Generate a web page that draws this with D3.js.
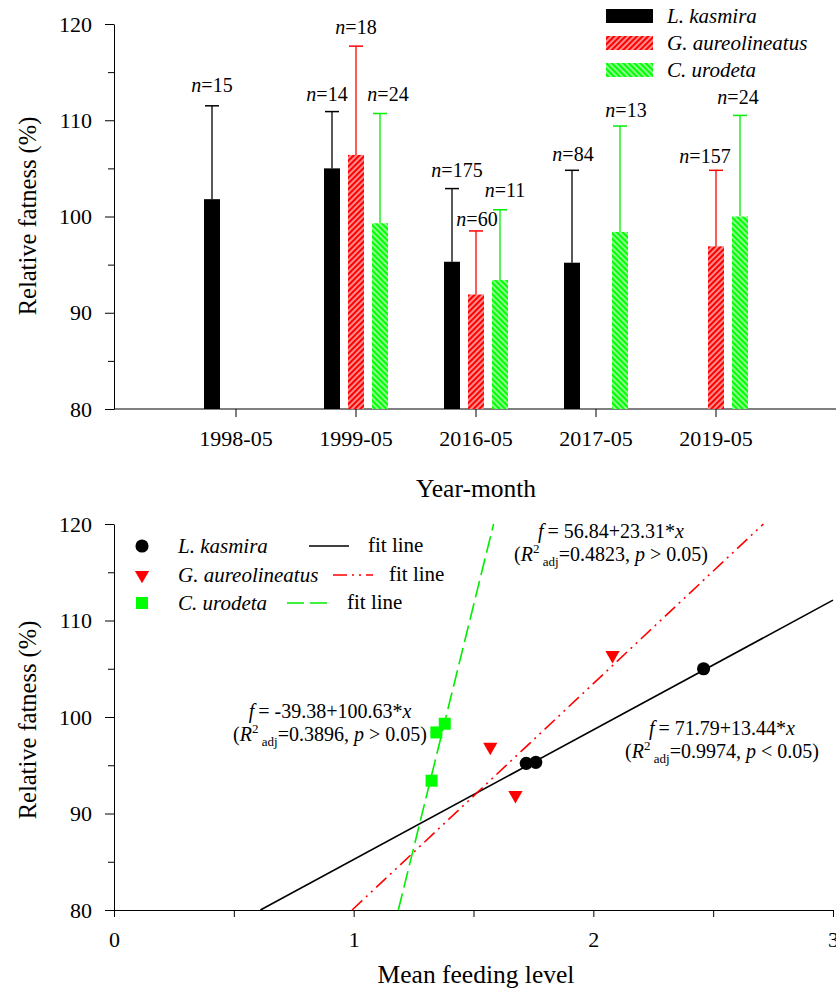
<!DOCTYPE html>
<html>
<head>
<meta charset="utf-8">
<script src="https://cdn.jsdelivr.net/npm/d3@7"></script>
<style>
body { margin: 0; background: #fff; }
svg { display: block; font-family: "Liberation Serif", "Times New Roman", serif; }
</style>
</head>
<body>
<div id="canvas"></div>
<script>
"use strict";

/**** DATA ****/
let months = ["1998-05", "1999-05", "2016-05", "2017-05", "2019-05"];
let species = ["L. kasmira", "G. aureolineatus", "C. urodeta"];

// bar means, upper error (SD) and sample sizes, one entry per month
let kasmiraMean = [101.8, 105.0, 95.3, 95.2, null];
let kasmiraSD = [9.7, 5.9, 7.6, 9.6, null];
let kasmiraN = [15, 14, 175, 84, null];

let aureoMean = [null, 106.4, 91.9, null, 96.9];
let aureoSD = [null, 11.3, 6.6, null, 7.9];
let aureoN = [null, 18, 60, null, 157];

let urodetaMean = [null, 99.3, 93.4, 98.4, 100.0];
let urodetaSD = [null, 11.4, 7.3, 11.0, 10.5];
let urodetaN = [null, 24, 11, 13, 24];

// mean feeding level vs relative fatness
let kasmiraFeed = [2.46, 1.72, 1.76];
let kasmiraFat = [105.0, 95.2, 95.3];
let aureoFeed = [2.08, 1.57, 1.675];
let aureoFat = [106.4, 96.9, 91.9];
let urodetaFeed = [1.38, 1.345, 1.325];
let urodetaFat = [99.3, 98.4, 93.4];

// fitted lines f = a + b*x
let fitIntercept = [71.79, 56.84, -39.38];
let fitSlope = [13.44, 23.31, 100.63];
let fitR2 = ["0.9974", "0.4823", "0.3896"];
let fitP = ["<", ">", ">"];

let yTicks = [80, 90, 100, 110, 120];
let yMinorTicks = [85, 95, 105, 115];
let feedTicks = [0, 0.5, 1, 1.5, 2, 2.5, 3];

/**** CONFIGURATION ****/
let svgWidth = 836;
let svgHeight = 993;
let axisX = 114;

let colors = ["#000000", "#ff0000", "#00ee00"];
let fills = ["#000000", "url(#hatchRed)", "url(#hatchGreen)"];

let svg = d3.select("#canvas")
    .append("svg")
    .attr("width", svgWidth)
    .attr("height", svgHeight);

/**** HATCH PATTERNS ****/
let defs = svg.append("defs");

function addHatch(id, color, angle) {
    let p = defs.append("pattern")
        .attr("id", id)
        .attr("patternUnits", "userSpaceOnUse")
        .attr("width", 4)
        .attr("height", 4)
        .attr("patternTransform", `rotate(${angle})`);
    p.append("rect")
        .attr("width", 4)
        .attr("height", 4)
        .attr("fill", color);
    p.append("line")
        .attr("x1", 2).attr("y1", 0)
        .attr("x2", 2).attr("y2", 4)
        .attr("stroke", "#fff")
        .attr("stroke-width", 1.1);
}
addHatch("hatchRed", "#ff0000", 45);
addHatch("hatchGreen", "#00ff00", -45);

/**** TOP CHART SCALES ****/
let yTop = d3.scaleLinear()
    .domain([80, 120])
    .range([409, 24]);

let xTop = d3.scaleBand()
    .domain(months)
    .range([176, 776]);

let xSub = d3.scaleBand()
    .domain(species)
    .range([-32, 32])
    .paddingInner(1 / 3);

/**** TOP AXES ****/
function styleAxis(g, size) {
    g.selectAll("text")
        .attr("font-family", "Liberation Serif, Times New Roman, serif")
        .attr("font-size", size)
        .attr("fill", "#000");
    g.selectAll("line").attr("stroke", "#000");
    g.selectAll("path").attr("stroke", "#000");
}

let gyTop = svg.append("g")
    .attr("transform", `translate(${axisX},0)`)
    .call(d3.axisLeft(yTop).tickValues(yTicks).tickSize(9).tickSizeOuter(0).tickPadding(13));
styleAxis(gyTop, 22);

svg.append("g")
    .attr("transform", `translate(${axisX},0)`)
    .call(d3.axisLeft(yTop).tickValues(yMinorTicks).tickSize(6).tickFormat(""))
    .call(g => g.select(".domain").remove())
    .call(g => g.selectAll("line").attr("stroke", "#000"));

let gxTop = svg.append("g")
    .attr("transform", `translate(0,${yTop(80)})`)
    .call(d3.axisBottom(xTop).tickSize(8).tickSizeOuter(0).tickPadding(13))
    .call(g => g.select(".domain").remove());
styleAxis(gxTop, 22);

svg.append("line")
    .attr("x1", axisX)
    .attr("x2", svgWidth)
    .attr("y1", yTop(80))
    .attr("y2", yTop(80))
    .attr("stroke", "#000");

/**** BARS, ERROR BARS AND n LABELS ****/
let means = [kasmiraMean, aureoMean, urodetaMean];
let sds = [kasmiraSD, aureoSD, urodetaSD];
let ns = [kasmiraN, aureoN, urodetaN];

// small nudges for the n= labels so they sit like the original
let labelDx = [[0, -5, 5, 1, 0], [0, 0, 1, 0, -11], [0, 8, 5, 6, -2]];
let labelDy = [[-14, -11, -12, -9, 0], [0, -12, -5, 0, -7], [0, -13, -13, -9, -11]];

for (let s = 0; s < species.length; s++) {
    for (let m = 0; m < months.length; m++) {
        if (means[s][m] === null) continue;
        let cx = xTop(months[m]) + xTop.bandwidth() / 2 + xSub(species[s]) + xSub.bandwidth() / 2;
        let top = yTop(means[s][m] + sds[s][m]);

        svg.append("line")
            .attr("x1", cx).attr("x2", cx)
            .attr("y1", yTop(means[s][m]))
            .attr("y2", top)
            .attr("stroke", colors[s])
            .attr("stroke-width", 1.3);
        svg.append("line")
            .attr("x1", cx - 7).attr("x2", cx + 7)
            .attr("y1", top).attr("y2", top)
            .attr("stroke", colors[s])
            .attr("stroke-width", 1.5);

        svg.append("rect")
            .attr("x", cx - xSub.bandwidth() / 2)
            .attr("y", yTop(means[s][m]))
            .attr("width", xSub.bandwidth())
            .attr("height", yTop(80) - yTop(means[s][m]))
            .attr("fill", fills[s]);

        let t = svg.append("text")
            .attr("x", cx + labelDx[s][m])
            .attr("y", top + labelDy[s][m])
            .attr("text-anchor", "middle")
            .style("font-size", "20px");
        t.append("tspan").style("font-style", "italic").text("n");
        t.append("tspan").text(`=${ns[s][m]}`);
    }
}

/**** TOP LEGEND ****/
for (let i = 0; i < species.length; i++) {
    let ly = 16 + i * 27;
    svg.append("rect")
        .attr("x", 606)
        .attr("y", ly - 7)
        .attr("width", 47)
        .attr("height", 14)
        .attr("fill", fills[i]);
    svg.append("text")
        .attr("x", 667)
        .attr("y", ly + 7)
        .style("font-size", "21px")
        .style("font-style", "italic")
        .text(species[i]);
}

/**** TOP AXIS TITLES ****/
svg.append("text")
    .attr("transform", "rotate(-90)")
    .attr("x", -216)
    .attr("y", 36)
    .attr("text-anchor", "middle")
    .style("font-size", "24.5px")
    .text("Relative fatness (%)");

svg.append("text")
    .attr("x", 476)
    .attr("y", 497)
    .attr("text-anchor", "middle")
    .style("font-size", "25.5px")
    .text("Year-month");

/**** BOTTOM CHART SCALES ****/
let yBot = d3.scaleLinear()
    .domain([80, 120])
    .range([910, 524]);

let xBot = d3.scaleLinear()
    .domain([0, 3])
    .range([axisX, 833]);

let gyBot = svg.append("g")
    .attr("transform", `translate(${axisX},0)`)
    .call(d3.axisLeft(yBot).tickValues(yTicks).tickSize(9).tickSizeOuter(0).tickPadding(13));
styleAxis(gyBot, 22);

svg.append("g")
    .attr("transform", `translate(${axisX},0)`)
    .call(d3.axisLeft(yBot).tickValues(yMinorTicks).tickSize(6).tickFormat(""))
    .call(g => g.select(".domain").remove())
    .call(g => g.selectAll("line").attr("stroke", "#000"));

let gxBot = svg.append("g")
    .attr("transform", `translate(0,${yBot(80)})`)
    .call(d3.axisBottom(xBot).tickValues(feedTicks).tickSize(7).tickSizeOuter(0).tickPadding(14)
        .tickFormat(d => Number.isInteger(d) ? d : ""));
styleAxis(gxBot, 22);

/**** FIT LINES ****/
let dashes = [null, "14,5,2,5,2,5", "17,6"];

for (let i = 0; i < 3; i++) {
    let a = fitIntercept[i];
    let b = fitSlope[i];
    let x1 = Math.max(0, (80 - a) / b);
    let x2 = Math.min(3, (120 - a) / b);
    svg.append("line")
        .attr("x1", xBot(x1))
        .attr("y1", yBot(a + b * x1))
        .attr("x2", xBot(x2))
        .attr("y2", yBot(a + b * x2))
        .attr("stroke", colors[i])
        .attr("stroke-width", 1.6)
        .attr("stroke-dasharray", dashes[i]);
}

/**** POINTS ****/
let symbols = [
    d3.symbol().type(d3.symbolCircle).size(135),
    d3.symbol().type(d3.symbolTriangle).size(88),
    d3.symbol().type(d3.symbolSquare).size(144)
];
let symbolRotate = [0, 180, 0];
let markColors = ["#000000", "#ff0000", "#00ff00"];
let feeds = [kasmiraFeed, aureoFeed, urodetaFeed];
let fats = [kasmiraFat, aureoFat, urodetaFat];

for (let i = 2; i >= 0; i--) {
    svg.selectAll(null)
        .data(d3.range(feeds[i].length))
        .join("path")
        .attr("d", symbols[i])
        .attr("transform", j => `translate(${xBot(feeds[i][j])},${yBot(fats[i][j])}) rotate(${symbolRotate[i]})`)
        .attr("fill", markColors[i]);
}

/**** EQUATIONS ****/
let eqX = [722, 611, 330];
let eqY = [735, 538, 718];

for (let i = 0; i < 3; i++) {
    let l1 = svg.append("text")
        .attr("x", eqX[i])
        .attr("y", eqY[i])
        .attr("text-anchor", "middle")
        .style("font-size", "20px");
    l1.append("tspan").style("font-style", "italic").text("f");
    l1.append("tspan").text(`\u2009= ${fitIntercept[i]}+${fitSlope[i]}*`);
    l1.append("tspan").style("font-style", "italic").text("x");

    let l2 = svg.append("text")
        .attr("x", eqX[i])
        .attr("y", eqY[i] + 23)
        .attr("text-anchor", "middle")
        .style("font-size", "20px");
    l2.append("tspan").text("(");
    l2.append("tspan").style("font-style", "italic").text("R");
    l2.append("tspan").attr("dy", -8).style("font-size", "13px").text("2");
    l2.append("tspan").attr("dy", 13).style("font-size", "13px").text(" adj");
    l2.append("tspan").attr("dy", -5).text(`=${fitR2[i]}, `);
    l2.append("tspan").style("font-style", "italic").text("p");
    l2.append("tspan").text(` ${fitP[i]} 0.05)`);
}

/**** BOTTOM LEGEND ****/
let legRowY = [546, 575, 603];
let legLine = [[309, 349], [333, 373], [287, 327]];
let legFitX = [368, 389, 347];

for (let i = 0; i < 3; i++) {
    svg.append("path")
        .attr("d", symbols[i])
        .attr("transform", `translate(142,${legRowY[i]}) rotate(${symbolRotate[i]})`)
        .attr("fill", markColors[i]);
    svg.append("text")
        .attr("x", 178)
        .attr("y", legRowY[i] + 7)
        .style("font-size", "21px")
        .style("font-style", "italic")
        .text(species[i]);
    svg.append("line")
        .attr("x1", legLine[i][0])
        .attr("x2", legLine[i][1])
        .attr("y1", legRowY[i])
        .attr("y2", legRowY[i])
        .attr("stroke", colors[i])
        .attr("stroke-width", 1.6)
        .attr("stroke-dasharray", dashes[i]);
    svg.append("text")
        .attr("x", legFitX[i])
        .attr("y", legRowY[i] + 6)
        .style("font-size", "21px")
        .text("fit line");
}

/**** BOTTOM AXIS TITLES ****/
svg.append("text")
    .attr("transform", "rotate(-90)")
    .attr("x", -720)
    .attr("y", 36)
    .attr("text-anchor", "middle")
    .style("font-size", "24.5px")
    .text("Relative fatness (%)");

svg.append("text")
    .attr("x", 476)
    .attr("y", 983)
    .attr("text-anchor", "middle")
    .style("font-size", "25.5px")
    .text("Mean feeding level");
</script>
</body>
</html>
